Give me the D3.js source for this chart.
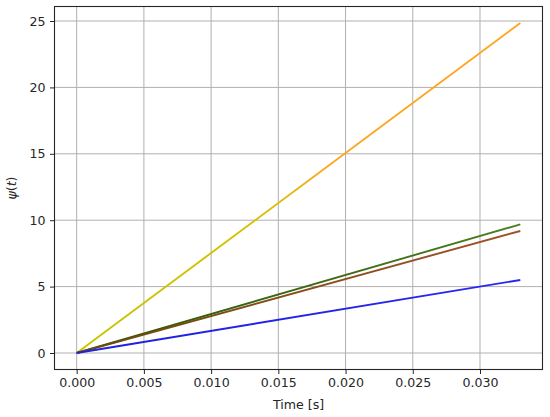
<!DOCTYPE html>
<html><head><meta charset="utf-8">
<script src="https://cdn.jsdelivr.net/npm/d3@7"></script>
<style>body{margin:0;background:#fff}svg{display:block}text{font-family:"DejaVu Sans",sans-serif}</style>
</head><body><svg id="c" width="550" height="417"></svg>
<script>
const times = [0, 0.033];
const seriesNames = ["orange", "green", "brown", "blue"];
const seriesValues = [[0, 24.85], [0, 9.69], [0, 9.19], [0, 5.50]];
const seriesColorStops = [
  [["0%", "#c8c400"], ["45%", "#d6c000"], ["55%", "#fca51a"], ["100%", "#ffa51e"]],
  [["0%", "#2a5200"], ["100%", "#4d7f22"]],
  [["0%", "#6a4a0c"], ["100%", "#a3502a"]],
  [["0%", "#2020e0"], ["100%", "#2828f0"]]
];
const xTicks = [0, 0.005, 0.010, 0.015, 0.020, 0.025, 0.030];
const yTicks = [0, 5, 10, 15, 20, 25];

const svg = d3.select("#c");
const L = 54.5, R = 542.5, T = 6.5, B = 369.5;
const FS = 12.6;
const xmax = d3.max(times), ymax = d3.max(seriesValues.flat());
const x = d3.scaleLinear().domain([-0.05 * xmax, xmax * 1.05]).range([L, R]);
const y = d3.scaleLinear().domain([-0.05 * ymax, ymax * 1.05]).range([B, T]);

// grid
const g = svg.append("g");
g.selectAll(".gx").data(xTicks).join("line")
  .attr("x1", d => x(d)).attr("x2", d => x(d)).attr("y1", T).attr("y2", B)
  .attr("stroke", "#b0b0b0").attr("stroke-width", 1);
g.selectAll(".gy").data(yTicks).join("line")
  .attr("y1", d => y(d)).attr("y2", d => y(d)).attr("x1", L).attr("x2", R)
  .attr("stroke", "#b0b0b0").attr("stroke-width", 1);

// gradients
const defs = svg.append("defs");
seriesValues.forEach((vals, i) => {
  const gr = defs.append("linearGradient").attr("id", "gr" + i)
    .attr("gradientUnits", "userSpaceOnUse")
    .attr("x1", x(times[0])).attr("y1", y(vals[0]))
    .attr("x2", x(times[times.length - 1])).attr("y2", y(vals[vals.length - 1]));
  seriesColorStops[i].forEach(s => gr.append("stop").attr("offset", s[0]).attr("stop-color", s[1]));
});

// lines
const line = d3.line().x((d, j) => x(times[j])).y(d => y(d));
svg.selectAll(".ln").data(seriesValues).join("path")
  .attr("d", d => line(d)).attr("fill", "none")
  .attr("stroke", (d, i) => "url(#gr" + i + ")").attr("stroke-width", 1.9);

// axes
const xa = svg.append("g").attr("transform", `translate(0,${B})`)
  .call(d3.axisBottom(x).tickValues(xTicks).tickFormat(d3.format(".3f")).tickSize(4.5).tickPadding(4.5));
const ya = svg.append("g").attr("transform", `translate(${L},0)`)
  .call(d3.axisLeft(y).tickValues(yTicks).tickFormat(d3.format("d")).tickSize(4.5).tickPadding(4.5));
[xa, ya].forEach(a => {
  a.select(".domain").remove();
  a.selectAll("text").attr("font-size", FS).attr("fill", "#262626").attr("font-family", "DejaVu Sans");
  a.selectAll("line").attr("stroke", "#262626").attr("stroke-width", 1);
});
svg.append("rect").attr("x", L).attr("y", T).attr("width", R - L).attr("height", B - T)
  .attr("fill", "none").attr("stroke", "#262626").attr("stroke-width", 1.1);

svg.append("text").attr("x", (L + R) / 2).attr("y", 408.5).attr("text-anchor", "middle")
  .attr("font-size", FS).attr("fill", "#262626").text("Time [s]");
const yl = svg.append("text").attr("transform", `translate(16,${(T + B) / 2}) rotate(-90)`).attr("text-anchor", "middle")
  .attr("font-size", FS).attr("fill", "#262626");
yl.append("tspan").attr("font-style", "italic").text("ψ");
yl.append("tspan").text("(");
yl.append("tspan").attr("font-style", "italic").text("t");
yl.append("tspan").text(")");
</script></body></html>
